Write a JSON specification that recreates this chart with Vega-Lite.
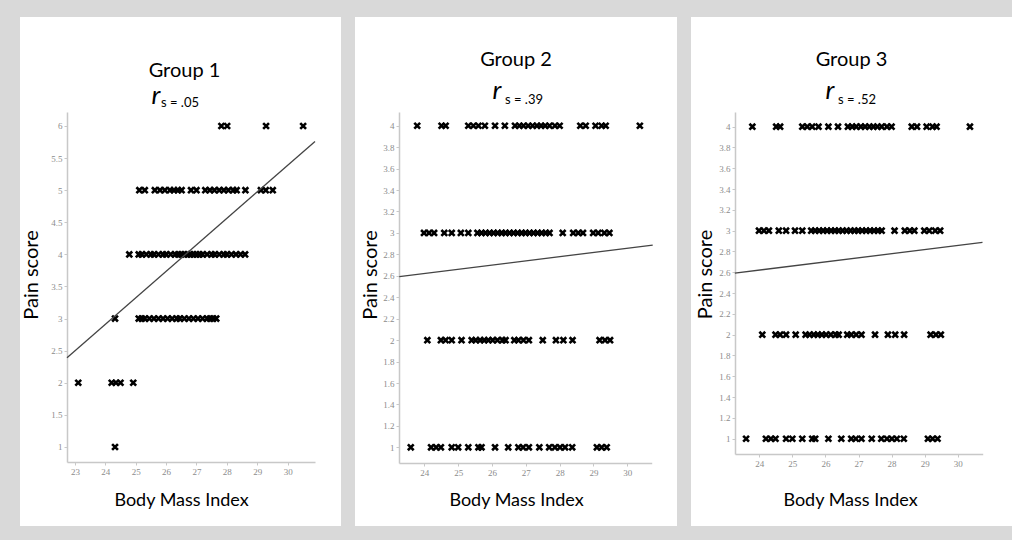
{
  "$schema": "https://vega.github.io/schema/vega-lite/v6.json",
  "background": "#d9d9d9",
  "padding": {"left": 20, "top": 17, "right": 0, "bottom": 14},
  "spacing": 14,
  "config": {
    "view": {"stroke": null, "fill": "white"},
    "title": {"font": "Lato", "fontSize": 20, "fontWeight": "normal", "color": "#000", "anchor": "middle", "frame": "group", "baseline": "alphabetic"},
    "axis": {"grid": false, "domainColor": "#c8c8c8", "domainWidth": 1.5, "tickColor": "#c8c8c8", "tickSize": 3, "labelColor": "#8c8c8c", "labelFont": "Liberation Sans Narrow", "labelFontSize": 9, "labelPadding": 2, "labelOverlap": false, "titleFont": "Lato", "titleFontWeight": "normal", "titleColor": "#000", "titleBaseline": "middle", "format": "~g"},
    "axisX": {"titleFontSize": 18},
    "axisY": {"titleFontSize": 20}
  },
  "datasets": {
    "g1": [
      {"bmi": 27.82, "pain": 6}, {"bmi": 28.01, "pain": 6}, {"bmi": 29.29, "pain": 6}, {"bmi": 30.51, "pain": 6},
      {"bmi": 25.12, "pain": 5}, {"bmi": 25.30, "pain": 5}, {"bmi": 25.63, "pain": 5}, {"bmi": 25.80, "pain": 5}, {"bmi": 25.96, "pain": 5}, {"bmi": 26.13, "pain": 5}, {"bmi": 26.26, "pain": 5}, {"bmi": 26.39, "pain": 5}, {"bmi": 26.51, "pain": 5}, {"bmi": 26.82, "pain": 5}, {"bmi": 27.00, "pain": 5}, {"bmi": 27.29, "pain": 5}, {"bmi": 27.44, "pain": 5}, {"bmi": 27.59, "pain": 5}, {"bmi": 27.75, "pain": 5}, {"bmi": 27.90, "pain": 5}, {"bmi": 28.05, "pain": 5}, {"bmi": 28.21, "pain": 5}, {"bmi": 28.32, "pain": 5}, {"bmi": 28.61, "pain": 5}, {"bmi": 29.12, "pain": 5}, {"bmi": 29.28, "pain": 5}, {"bmi": 29.51, "pain": 5},
      {"bmi": 24.79, "pain": 4}, {"bmi": 25.1, "pain": 4}, {"bmi": 25.2, "pain": 4}, {"bmi": 25.35, "pain": 4}, {"bmi": 25.5, "pain": 4}, {"bmi": 25.6, "pain": 4}, {"bmi": 25.75, "pain": 4}, {"bmi": 25.9, "pain": 4}, {"bmi": 26.0, "pain": 4}, {"bmi": 26.15, "pain": 4}, {"bmi": 26.3, "pain": 4}, {"bmi": 26.4, "pain": 4}, {"bmi": 26.5, "pain": 4}, {"bmi": 26.6, "pain": 4}, {"bmi": 26.7, "pain": 4}, {"bmi": 26.8, "pain": 4}, {"bmi": 26.9, "pain": 4}, {"bmi": 27.0, "pain": 4}, {"bmi": 27.1, "pain": 4}, {"bmi": 27.2, "pain": 4}, {"bmi": 27.35, "pain": 4}, {"bmi": 27.5, "pain": 4}, {"bmi": 27.6, "pain": 4}, {"bmi": 27.75, "pain": 4}, {"bmi": 27.9, "pain": 4}, {"bmi": 28.0, "pain": 4}, {"bmi": 28.15, "pain": 4}, {"bmi": 28.3, "pain": 4}, {"bmi": 28.45, "pain": 4}, {"bmi": 28.6, "pain": 4},
      {"bmi": 24.32, "pain": 3}, {"bmi": 25.1, "pain": 3}, {"bmi": 25.2, "pain": 3}, {"bmi": 25.3, "pain": 3}, {"bmi": 25.45, "pain": 3}, {"bmi": 25.6, "pain": 3}, {"bmi": 25.75, "pain": 3}, {"bmi": 25.9, "pain": 3}, {"bmi": 26.05, "pain": 3}, {"bmi": 26.2, "pain": 3}, {"bmi": 26.35, "pain": 3}, {"bmi": 26.45, "pain": 3}, {"bmi": 26.6, "pain": 3}, {"bmi": 26.75, "pain": 3}, {"bmi": 26.9, "pain": 3}, {"bmi": 27.05, "pain": 3}, {"bmi": 27.2, "pain": 3}, {"bmi": 27.35, "pain": 3}, {"bmi": 27.45, "pain": 3}, {"bmi": 27.55, "pain": 3}, {"bmi": 27.65, "pain": 3},
      {"bmi": 23.11, "pain": 2}, {"bmi": 24.21, "pain": 2}, {"bmi": 24.35, "pain": 2}, {"bmi": 24.50, "pain": 2}, {"bmi": 24.92, "pain": 2},
      {"bmi": 24.32, "pain": 1}
    ],
    "g23": [
      {"bmi": 23.79, "pain": 4}, {"bmi": 24.51, "pain": 4}, {"bmi": 24.63, "pain": 4}, {"bmi": 25.30, "pain": 4}, {"bmi": 25.45, "pain": 4}, {"bmi": 25.60, "pain": 4}, {"bmi": 25.79, "pain": 4}, {"bmi": 26.09, "pain": 4}, {"bmi": 26.38, "pain": 4}, {"bmi": 26.68, "pain": 4}, {"bmi": 26.81, "pain": 4}, {"bmi": 26.93, "pain": 4}, {"bmi": 27.07, "pain": 4}, {"bmi": 27.20, "pain": 4}, {"bmi": 27.33, "pain": 4}, {"bmi": 27.45, "pain": 4}, {"bmi": 27.57, "pain": 4}, {"bmi": 27.70, "pain": 4}, {"bmi": 27.86, "pain": 4}, {"bmi": 28.00, "pain": 4}, {"bmi": 28.61, "pain": 4}, {"bmi": 28.77, "pain": 4}, {"bmi": 29.06, "pain": 4}, {"bmi": 29.24, "pain": 4}, {"bmi": 29.36, "pain": 4}, {"bmi": 30.37, "pain": 4},
      {"bmi": 23.99, "pain": 3}, {"bmi": 24.14, "pain": 3}, {"bmi": 24.29, "pain": 3}, {"bmi": 24.59, "pain": 3}, {"bmi": 24.81, "pain": 3}, {"bmi": 25.08, "pain": 3}, {"bmi": 25.30, "pain": 3}, {"bmi": 25.57, "pain": 3}, {"bmi": 25.69, "pain": 3}, {"bmi": 25.81, "pain": 3}, {"bmi": 25.93, "pain": 3}, {"bmi": 26.05, "pain": 3}, {"bmi": 26.17, "pain": 3}, {"bmi": 26.29, "pain": 3}, {"bmi": 26.40, "pain": 3}, {"bmi": 26.52, "pain": 3}, {"bmi": 26.64, "pain": 3}, {"bmi": 26.76, "pain": 3}, {"bmi": 26.88, "pain": 3}, {"bmi": 26.99, "pain": 3}, {"bmi": 27.11, "pain": 3}, {"bmi": 27.23, "pain": 3}, {"bmi": 27.35, "pain": 3}, {"bmi": 27.47, "pain": 3}, {"bmi": 27.59, "pain": 3}, {"bmi": 27.70, "pain": 3}, {"bmi": 28.09, "pain": 3}, {"bmi": 28.40, "pain": 3}, {"bmi": 28.55, "pain": 3}, {"bmi": 28.69, "pain": 3}, {"bmi": 28.99, "pain": 3}, {"bmi": 29.14, "pain": 3}, {"bmi": 29.32, "pain": 3}, {"bmi": 29.47, "pain": 3},
      {"bmi": 24.09, "pain": 2}, {"bmi": 24.49, "pain": 2}, {"bmi": 24.63, "pain": 2}, {"bmi": 24.81, "pain": 2}, {"bmi": 25.10, "pain": 2}, {"bmi": 25.40, "pain": 2}, {"bmi": 25.52, "pain": 2}, {"bmi": 25.65, "pain": 2}, {"bmi": 25.77, "pain": 2}, {"bmi": 25.89, "pain": 2}, {"bmi": 26.02, "pain": 2}, {"bmi": 26.16, "pain": 2}, {"bmi": 26.31, "pain": 2}, {"bmi": 26.40, "pain": 2}, {"bmi": 26.66, "pain": 2}, {"bmi": 26.78, "pain": 2}, {"bmi": 26.93, "pain": 2}, {"bmi": 27.09, "pain": 2}, {"bmi": 27.50, "pain": 2}, {"bmi": 27.89, "pain": 2}, {"bmi": 28.11, "pain": 2}, {"bmi": 28.38, "pain": 2}, {"bmi": 29.18, "pain": 2}, {"bmi": 29.34, "pain": 2}, {"bmi": 29.49, "pain": 2},
      {"bmi": 23.60, "pain": 1}, {"bmi": 24.20, "pain": 1}, {"bmi": 24.35, "pain": 1}, {"bmi": 24.49, "pain": 1}, {"bmi": 24.81, "pain": 1}, {"bmi": 25.00, "pain": 1}, {"bmi": 25.30, "pain": 1}, {"bmi": 25.60, "pain": 1}, {"bmi": 25.69, "pain": 1}, {"bmi": 26.09, "pain": 1}, {"bmi": 26.48, "pain": 1}, {"bmi": 26.78, "pain": 1}, {"bmi": 26.92, "pain": 1}, {"bmi": 27.09, "pain": 1}, {"bmi": 27.40, "pain": 1}, {"bmi": 27.69, "pain": 1}, {"bmi": 27.86, "pain": 1}, {"bmi": 28.01, "pain": 1}, {"bmi": 28.16, "pain": 1}, {"bmi": 28.37, "pain": 1}, {"bmi": 29.10, "pain": 1}, {"bmi": 29.24, "pain": 1}, {"bmi": 29.39, "pain": 1}
    ],
    "fit1": [{"bmi": 22.74, "pain": 2.389}, {"bmi": 30.9, "pain": 5.759}],
    "fit23": [{"bmi": 23.26, "pain": 2.592}, {"bmi": 30.75, "pain": 2.887}]
  },
  "hconcat": [
    {
      "width": 321, "height": 509,
      "title": {"text": "Group 1", "offset": -64, "dx": 4},
      "layer": [
        {
          "data": {"name": "g1"},
          "mark": {"type": "point", "shape": "M-1,-1L1,1M-1,1L1,-1", "filled": false, "stroke": "#000", "strokeWidth": 2.6, "size": 34, "opacity": 1},
          "encoding": {
            "x": {"field": "bmi", "type": "quantitative", "scale": {"domain": [22.74, 30.9], "range": [47, 295], "zero": false, "nice": false},
                  "axis": {"title": "Body Mass Index", "values": [23, 24, 25, 26, 27, 28, 29, 30], "tickCount": 30, "offset": -64, "titleX": 161, "titleY": 38}},
            "y": {"field": "pain", "type": "quantitative", "scale": {"domain": [0.766, 6.218], "range": [445, 95], "zero": false, "nice": false},
                  "axis": {"title": "Pain score", "values": [1, 1.5, 2, 2.5, 3, 3.5, 4, 4.5, 5, 5.5, 6], "tickCount": 30, "offset": -47, "titleX": -35.5, "titleY": 257.5}}
          }
        },
        {
          "data": {"name": "fit1"},
          "mark": {"type": "line", "color": "#444", "strokeWidth": 1.3},
          "encoding": {"x": {"field": "bmi", "type": "quantitative"}, "y": {"field": "pain", "type": "quantitative"}}
        },
        {
          "data": {"values": [{"label": "r"}]},
          "mark": {"type": "text", "font": "Lato", "fontStyle": "italic", "fontSize": 26, "align": "center", "baseline": "alphabetic", "color": "#000"},
          "encoding": {"x": {"datum": 25.669}, "y": {"datum": 6.343}, "text": {"field": "label"}}
        },
        {
          "data": {"values": [{"label": "s = .05"}]},
          "mark": {"type": "text", "font": "Lato", "fontSize": 13, "align": "left", "baseline": "alphabetic", "color": "#000"},
          "encoding": {"x": {"datum": 25.833}, "y": {"datum": 6.296}, "text": {"field": "label"}}
        }
      ]
    },
    {
      "width": 322, "height": 509,
      "title": {"text": "Group 2", "offset": -53},
      "layer": [
        {
          "data": {"name": "g23"},
          "mark": {"type": "point", "shape": "M-1,-1L1,1M-1,1L1,-1", "filled": false, "stroke": "#000", "strokeWidth": 2.6, "size": 34, "opacity": 1},
          "encoding": {
            "x": {"field": "bmi", "type": "quantitative", "scale": {"domain": [23.252, 30.72], "range": [44, 296.7], "zero": false, "nice": false},
                  "axis": {"title": "Body Mass Index", "values": [24, 25, 26, 27, 28, 29, 30], "tickCount": 30, "offset": -63, "titleX": 161, "titleY": 37}},
            "y": {"field": "pain", "type": "quantitative", "scale": {"domain": [0.854, 4.128], "range": [446, 95], "zero": false, "nice": false},
                  "axis": {"title": "Pain score", "values": [1, 1.2, 1.4, 1.6, 1.8, 2, 2.2, 2.4, 2.6, 2.8, 3, 3.2, 3.4, 3.6, 3.8, 4], "tickCount": 30, "offset": -44, "titleX": -28.5, "titleY": 257.5}}
          }
        },
        {
          "data": {"name": "fit23"},
          "mark": {"type": "line", "color": "#444", "strokeWidth": 1.3},
          "encoding": {"x": {"field": "bmi", "type": "quantitative"}, "y": {"field": "pain", "type": "quantitative"}}
        },
        {
          "data": {"values": [{"label": "r"}]},
          "mark": {"type": "text", "font": "Lato", "fontStyle": "italic", "fontSize": 26, "align": "center", "baseline": "alphabetic", "color": "#000"},
          "encoding": {"x": {"datum": 26.149}, "y": {"datum": 4.249}, "text": {"field": "label"}}
        },
        {
          "data": {"values": [{"label": "s = .39"}]},
          "mark": {"type": "text", "font": "Lato", "fontSize": 13, "align": "left", "baseline": "alphabetic", "color": "#000"},
          "encoding": {"x": {"datum": 26.386}, "y": {"datum": 4.202}, "text": {"field": "label"}}
        }
      ]
    },
    {
      "width": 321, "height": 509,
      "title": {"text": "Group 3", "offset": -53},
      "layer": [
        {
          "data": {"name": "g23"},
          "mark": {"type": "point", "shape": "M-1,-1L1,1M-1,1L1,-1", "filled": false, "stroke": "#000", "strokeWidth": 2.6, "size": 34, "opacity": 1},
          "encoding": {
            "x": {"field": "bmi", "type": "quantitative", "scale": {"domain": [23.265, 30.756], "range": [44, 291.7], "zero": false, "nice": false},
                  "axis": {"title": "Body Mass Index", "values": [24, 25, 26, 27, 28, 29, 30], "tickCount": 30, "offset": -72, "titleX": 159, "titleY": 46}},
            "y": {"field": "pain", "type": "quantitative", "scale": {"domain": [0.853, 4.141], "range": [437, 95], "zero": false, "nice": false},
                  "axis": {"title": "Pain score", "values": [1, 1.2, 1.4, 1.6, 1.8, 2, 2.2, 2.4, 2.6, 2.8, 3, 3.2, 3.4, 3.6, 3.8, 4], "tickCount": 30, "offset": -44, "titleX": -29.5, "titleY": 257}}
          }
        },
        {
          "data": {"name": "fit23"},
          "mark": {"type": "line", "color": "#444", "strokeWidth": 1.3},
          "encoding": {"x": {"field": "bmi", "type": "quantitative"}, "y": {"field": "pain", "type": "quantitative"}}
        },
        {
          "data": {"values": [{"label": "r"}]},
          "mark": {"type": "text", "font": "Lato", "fontStyle": "italic", "fontSize": 26, "align": "center", "baseline": "alphabetic", "color": "#000"},
          "encoding": {"x": {"datum": 26.138}, "y": {"datum": 4.266}, "text": {"field": "label"}}
        },
        {
          "data": {"values": [{"label": "s = .52"}]},
          "mark": {"type": "text", "font": "Lato", "fontSize": 13, "align": "left", "baseline": "alphabetic", "color": "#000"},
          "encoding": {"x": {"datum": 26.38}, "y": {"datum": 4.218}, "text": {"field": "label"}}
        }
      ]
    }
  ]
}
